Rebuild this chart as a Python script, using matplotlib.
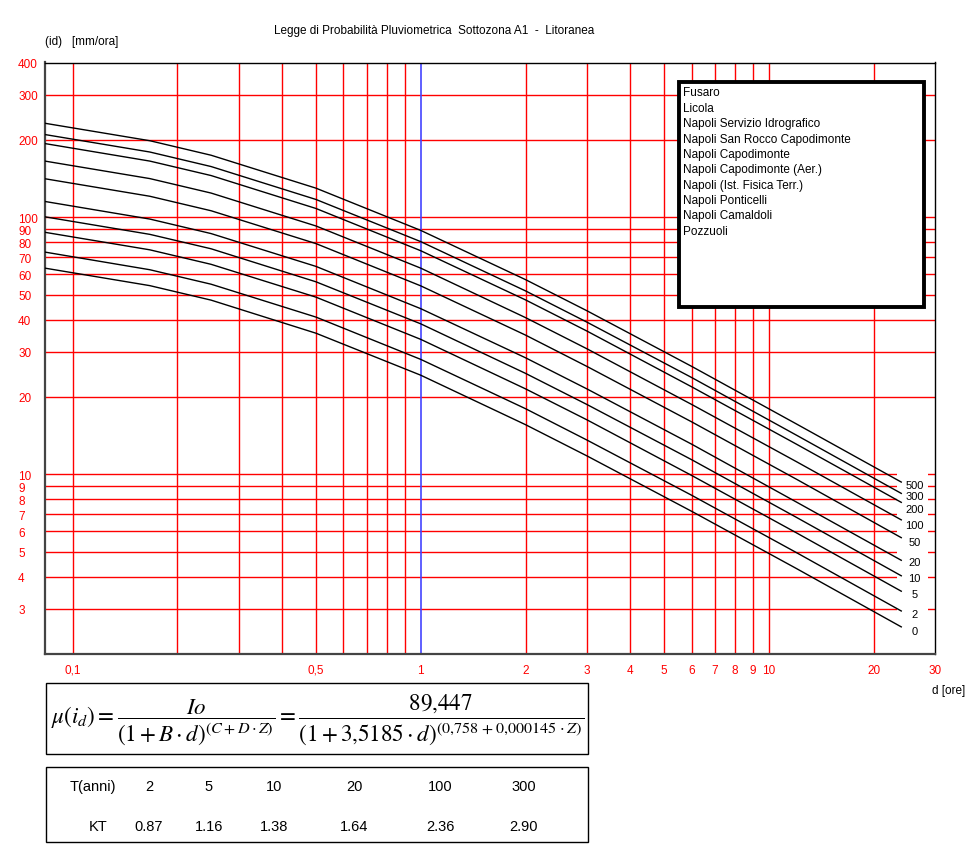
import matplotlib
matplotlib.use("Agg")
import matplotlib.pyplot as plt
from matplotlib.patches import Rectangle

plt.rcParams['font.family'] = ['Liberation Sans', 'DejaVu Sans']
plt.rcParams['mathtext.fontset'] = 'stix'

#################################################################################
# data
#################################################################################
# durations d [ore]
durations = [0.0833, 0.1667, 0.25, 0.5, 1, 2, 3, 6, 12, 24]

# intensity curves (id) [mm/ora], from the lowest to the highest
i_0 = [63.4, 54.2, 47.6, 35.4, 24.3, 15.6, 11.8, 7.18, 4.30, 2.55]
i_2 = [73.2, 62.5, 54.9, 40.9, 28.0, 18.0, 13.6, 8.29, 4.96, 2.94]
i_5 = [87.4, 74.7, 65.6, 48.9, 33.5, 21.5, 16.3, 9.90, 5.92, 3.51]
i_10 = [100.4, 85.8, 75.4, 56.1, 38.5, 24.7, 18.7, 11.4, 6.80, 4.03]
i_20 = [115.2, 98.4, 86.4, 64.4, 44.1, 28.4, 21.5, 13.1, 7.80, 4.63]
i_50 = [141.2, 120.7, 106.0, 79.0, 54.1, 34.8, 26.3, 16.0, 9.57, 5.67]
i_100 = [165.4, 141.4, 124.2, 92.5, 63.4, 40.7, 30.8, 18.7, 11.2, 6.65]
i_200 = [193.5, 165.4, 145.3, 108.2, 74.1, 47.7, 36.1, 21.9, 13.1, 7.78]
i_300 = [209.8, 179.4, 157.5, 117.3, 80.4, 51.7, 39.1, 23.8, 14.2, 8.43]
i_500 = [232.1, 198.5, 174.3, 129.8, 88.9, 57.2, 43.3, 26.3, 15.7, 9.33]

curve_labels = ['0', '2', '5', '10', '20', '50', '100', '200', '300', '500']
curves = [i_0, i_2, i_5, i_10, i_20, i_50, i_100, i_200, i_300, i_500]
# how far (px) each label sits below the end of its curve
label_drop = [4.4, 3.0, 2.4, 2.6, 1.6, 4.4, 4.7, 6.7, 2.7, 3.0]

stations = ['Fusaro', 'Licola', 'Napoli Servizio Idrografico',
            'Napoli San Rocco Capodimonte', 'Napoli Capodimonte',
            'Napoli Capodimonte (Aer.)', 'Napoli (Ist. Fisica Terr.)',
            'Napoli Ponticelli', 'Napoli Camaldoli', 'Pozzuoli']

T_anni = ['2', '5', '10', '20', '100', '300']
KT = ['0.87', '1.16', '1.38', '1.64', '2.36', '2.90']

# axis ticks / grid
x_ticks = [0.1, 0.5, 1, 2, 3, 4, 5, 6, 7, 8, 9, 10, 20, 30]
x_tick_labels = ['0,1', '0,5', '1', '2', '3', '4', '5', '6', '7', '8', '9', '10', '20', '30']
x_grid = [0.1, 0.2, 0.3, 0.4, 0.5, 0.6, 0.7, 0.8, 0.9, 2, 3, 4, 5, 6, 7, 8, 9, 10, 20]
y_ticks = [3, 4, 5, 6, 7, 8, 9, 10, 20, 30, 40, 50, 60, 70, 80, 90, 100, 200, 300, 400]
y_grid = [3, 4, 5, 6, 7, 8, 9, 10, 20, 30, 40, 50, 60, 70, 80, 90, 100, 200, 300]

#################################################################################
# figure
#################################################################################
W, H = 975, 854
RED = '#ff0000'
FS = 8.5
PT = 100 / 72.0  # px per point


def fx(px):
    return px / W


def fy(py):
    return 1 - py / H


fig = plt.figure(figsize=(W / 100, H / 100), dpi=100)
fig.patch.set_facecolor('white')

ax = fig.add_axes([fx(45), fy(655), (935 - 45) / W, (655 - 63.5) / H])
ax.set_xscale('log')
ax.set_yscale('log')
ax.set_xlim(1 / 12, 30)
ax.set_ylim(2, 400)
ax.minorticks_off()

for x in x_grid:
    ax.axvline(x, color=RED, lw=1, zorder=1)
for y in y_grid:
    ax.axhline(y, color=RED, lw=1, zorder=1)
ax.axvline(1, color='#4444ff', lw=1.2, zorder=1.2)

# white area behind the curve labels
ax.add_patch(Rectangle((0.957, 0), 0.035, 0.31, transform=ax.transAxes,
                       facecolor='white', edgecolor='none', zorder=1.5))

for vals, lab, drop in zip(curves, curve_labels, label_drop):
    ax.plot(durations, vals, color='black', lw=1, zorder=3)
    ax.annotate(lab, xy=(durations[-1], vals[-1]), xytext=(9.4, -drop / PT),
                textcoords='offset points', ha='center', va='center',
                fontsize=8, zorder=4)

ax.set_xticks(x_ticks)
ax.set_xticklabels(x_tick_labels)
ax.set_yticks(y_ticks)
ax.set_yticklabels([str(v) for v in y_ticks])
ax.minorticks_off()
ax.tick_params(which='both', length=0, labelcolor=RED, labelsize=FS)
ax.tick_params(axis='x', pad=7)
ax.tick_params(axis='y', pad=19.4)
for lbl in ax.get_yticklabels():
    lbl.set_horizontalalignment('left')

for side in ['top', 'right']:
    ax.spines[side].set_linewidth(1)
    ax.spines[side].set_color('black')
for side in ['left', 'bottom']:
    ax.spines[side].set_linewidth(1.6)
    ax.spines[side].set_color('#444444')

# station box
bx0, bx1 = (679 - 45) / 890, (924 - 45) / 890
by0, by1 = (655 - 308) / 591.5, (655 - 83) / 591.5
ax.add_patch(Rectangle((bx0, by0), bx1 - bx0, by1 - by0, transform=ax.transAxes,
                       facecolor='white', edgecolor='black', lw=2.8, zorder=5))
for i, name in enumerate(stations):
    fig.text(fx(683), fy(93.3 + 15.4 * i), name, ha='left', va='center',
             fontsize=FS, zorder=6)

# titles
fig.text(fx(434), fy(31), 'Legge di Probabilità Pluviometrica  Sottozona A1  -  Litoranea',
         ha='center', va='center', fontsize=FS)
fig.text(fx(45), fy(42), '(id)   [mm/ora]', ha='left', va='center', fontsize=FS)
fig.text(fx(932), fy(691), 'd [ore]', ha='left', va='center', fontsize=FS)

#################################################################################
# formula box
#################################################################################
fig.add_artist(Rectangle((fx(46), fy(755)), fx(588) - fx(46), (755 - 684) / H,
                         transform=fig.transFigure, facecolor='none',
                         edgecolor='black', lw=1))
formula = (r'$\mu(i_d) = \dfrac{Io}{(1+B\cdot d)^{(C+D\cdot Z)}}'
           r' = \dfrac{89{,}447}{(1+3{,}5185\cdot d)^{(0{,}758\,+0{,}000145\,\cdot Z)}}$')
fig.text(fx(317.5), fy(720), formula, ha='center', va='center', fontsize=16.6)

#################################################################################
# table box
#################################################################################
fig.add_artist(Rectangle((fx(46), fy(843)), fx(588) - fx(46), (843 - 768) / H,
                         transform=fig.transFigure, facecolor='none',
                         edgecolor='black', lw=1))
col_x = [149, 209, 274, 354, 440, 524]
fig.text(fx(93), fy(787), 'T(anni)', ha='center', va='center', fontsize=10.5)
fig.text(fx(108), fy(827), 'KT', ha='right', va='center', fontsize=10.5)
for cx, t, k in zip(col_x, T_anni, KT):
    fig.text(fx(cx), fy(787), t, ha='center', va='center', fontsize=10.5)
    fig.text(fx(cx), fy(827), k, ha='center', va='center', fontsize=10.5)

fig.savefig('out.png', dpi=100, facecolor='white')
